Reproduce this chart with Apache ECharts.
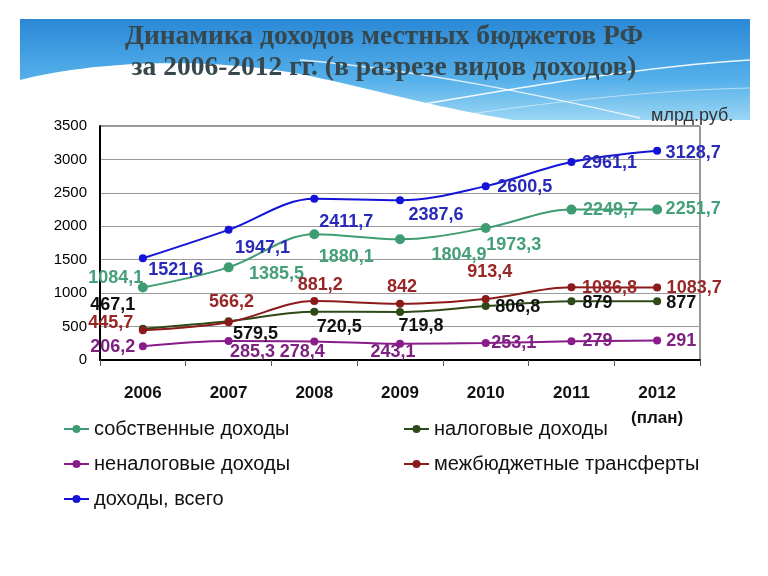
<!DOCTYPE html>
<html>
<head>
<meta charset="utf-8">
<script src="https://cdn.jsdelivr.net/npm/echarts@6/dist/echarts.min.js"></script>
<style>
html,body{margin:0;padding:0;background:#fff;}
#chart{width:768px;height:576px;}
</style>
</head>
<body>
<div id="chart"></div>
<script>
// ---- data ----
var years = ['2006', '2007', '2008', '2009', '2010', '2011', '2012\n(план)'];
var ownIncome      = [1084.1, 1385.5, 1880.1, 1804.9, 1973.3, 2249.7, 2251.7];
var taxIncome      = [467.1, 579.5, 720.5, 719.8, 806.8, 879, 877];
var nonTaxIncome   = [206.2, 285.3, 278.4, 243.1, 253.1, 279, 291];
var transfers      = [445.7, 566.2, 881.2, 842, 913.4, 1086.8, 1083.7];
var totalIncome    = [1521.6, 1947.1, 2411.7, 2387.6, 2600.5, 2961.1, 3128.7];
var yTicks = [0, 500, 1000, 1500, 2000, 2500, 3000, 3500];
var seriesNames = ['собственные доходы', 'налоговые доходы', 'неналоговые доходы', 'межбюджетные трансферты', 'доходы, всего'];

// ---- label placement (offset of label centre from its point) ----
var offOwn    = [[-27,-9],[48,7],[32,23],[59,16],[28,17],[39,0],[36,0]];
var offTax    = [[-30,-24],[27,13],[25,15],[21,14],[32,1],[26,2],[24,2]];
var offNonTax = [[-30,1],[24,11],[-12,11],[-7,8],[28,0],[26,0],[24,0]];
var offTrans  = [[-32,-7],[3,-20],[6,-16],[2,-17],[4,-27],[38,1],[37,0]];
var offTotal  = [[33,12],[34,18],[32,23],[36,15],[39,1],[38,1],[36,2]];

function fmt(v){ return String(v).replace('.', ','); }

// sample a cubic bezier (decorative background only)
function bez(p0, p1, p2, p3, n){
  var pts = [];
  for (var i = 0; i <= n; i++){
    var t = i / n, u = 1 - t;
    pts.push([
      u*u*u*p0[0] + 3*u*u*t*p1[0] + 3*u*t*t*p2[0] + t*t*t*p3[0],
      u*u*u*p0[1] + 3*u*u*t*p1[1] + 3*u*t*t*p2[1] + t*t*t*p3[1]
    ]);
  }
  return pts;
}
var wave = bez([20,80],[90,62],[200,56],[300,74],30)
  .concat(bez([300,74],[380,90],[440,110],[540,124],30))
  .concat([[20,124]]);

function mkSeries(name, values, offs, lineColor, labelColor, symSize){
  return {
    name: name,
    type: 'line',
    smooth: 0.35,
    symbol: 'circle',
    symbolSize: symSize,
    lineStyle: {color: lineColor, width: 2},
    itemStyle: {color: lineColor},
    emphasis: {disabled: true},
    label: {
      show: true,
      position: 'inside',
      fontFamily: 'Liberation Sans, Arial, sans-serif',
      fontSize: 18,
      fontWeight: 'bold',
      color: labelColor,
      formatter: function(p){ return fmt(p.value); }
    },
    data: values.map(function(v, i){ return {value: v, label: {offset: offs[i]}}; }),
    z: 3
  };
}

var legendFont = {fontFamily: 'Liberation Sans, Arial, sans-serif', fontSize: 20, color: '#111'};
function mkLegend(name, left, top){
  return {
    data: [name], left: left, top: top, selectedMode: false,
    itemWidth: 25, itemHeight: 10, itemGap: 6,
    textStyle: legendFont
  };
}

var chart = echarts.init(document.getElementById('chart'), null, {renderer: 'canvas'});
chart.setOption({
  animation: false,
  backgroundColor: '#ffffff',
  graphic: [
    {type: 'rect', z: -10, silent: true, shape: {x: 20, y: 19, width: 730, height: 101},
     style: {fill: {type: 'linear', x: 0, y: 0, x2: 0, y2: 1, colorStops: [
       {offset: 0, color: '#2a88d6'}, {offset: 0.6, color: '#55b0ea'}, {offset: 1, color: '#9bd6f4'}]}}},
    {type: 'polygon', z: -9, silent: true, shape: {points: wave}, style: {fill: '#ffffff'}},
    {type: 'bezierCurve', z: -9, silent: true,
     shape: {x1: 330, y1: 120, cpx1: 480, cpy1: 95, cpx2: 620, cpy2: 68, x2: 750, y2: 60},
     style: {fill: null, stroke: 'rgba(255,255,255,0.9)', lineWidth: 1.5}},
    {type: 'bezierCurve', z: -9, silent: true,
     shape: {x1: 300, y1: 60, cpx1: 420, cpy1: 70, cpx2: 540, cpy2: 95, x2: 640, y2: 118},
     style: {fill: null, stroke: 'rgba(255,255,255,0.8)', lineWidth: 1.5}},
    {type: 'bezierCurve', z: -9, silent: true,
     shape: {x1: 430, y1: 120, cpx1: 560, cpy1: 100, cpx2: 660, cpy2: 90, x2: 750, y2: 88},
     style: {fill: null, stroke: 'rgba(255,255,255,0.5)', lineWidth: 1}},
    {type: 'text', z: 5, silent: true, left: 651, top: 107,
     style: {text: 'млрд.руб.', fontFamily: 'Liberation Sans, Arial, sans-serif', fontSize: 18, fill: '#333'}}
  ],
  title: {
    text: 'Динамика доходов местных бюджетов РФ\nза 2006-2012 гг. (в разрезе видов доходов)',
    left: 'center', top: 16,
    textStyle: {fontFamily: 'Liberation Serif, Times New Roman, serif', fontSize: 27.5, fontWeight: 'bold',
                color: '#36484e', lineHeight: 31, align: 'center'}
  },
  legend: [
    mkLegend(seriesNames[0], 58, 414),
    mkLegend(seriesNames[2], 58, 449),
    mkLegend(seriesNames[4], 58, 484),
    mkLegend(seriesNames[1], 398, 414),
    mkLegend(seriesNames[3], 398, 449)
  ],
  grid: {left: 100, right: 68, top: 126, bottom: 216, show: true, borderColor: '#333', borderWidth: 1},
  xAxis: {
    type: 'category', data: years, boundaryGap: true,
    axisLine: {lineStyle: {color: '#000', width: 2}},
    axisTick: {show: true, interval: 0, length: 6, lineStyle: {color: '#555'}},
    axisLabel: {margin: 21, interval: 0, fontFamily: 'Liberation Sans, Arial, sans-serif', fontSize: 17,
                fontWeight: 'bold', color: '#111', lineHeight: 25}
  },
  yAxis: {
    type: 'value', min: yTicks[0], max: yTicks[yTicks.length - 1], interval: yTicks[1] - yTicks[0],
    axisLine: {show: true, lineStyle: {color: '#000', width: 2}},
    axisTick: {show: false},
    splitLine: {lineStyle: {color: '#9a9a9a', width: 1}},
    axisLabel: {margin: 13, fontFamily: 'Liberation Sans, Arial, sans-serif', fontSize: 15, color: '#000',
                formatter: function(v){ return String(v); }}
  },
  series: [
    mkSeries(seriesNames[0], ownIncome, offOwn, '#3f9c72', '#45a07a', 10),
    mkSeries(seriesNames[1], taxIncome, offTax, '#2e4a18', '#111111', 8),
    mkSeries(seriesNames[2], nonTaxIncome, offNonTax, '#8a1c8a', '#7d2280', 8),
    mkSeries(seriesNames[3], transfers, offTrans, '#8b1a1a', '#992626', 8),
    mkSeries(seriesNames[4], totalIncome, offTotal, '#1414d8', '#2a2ab8', 8)
  ]
});
</script>
</body>
</html>
